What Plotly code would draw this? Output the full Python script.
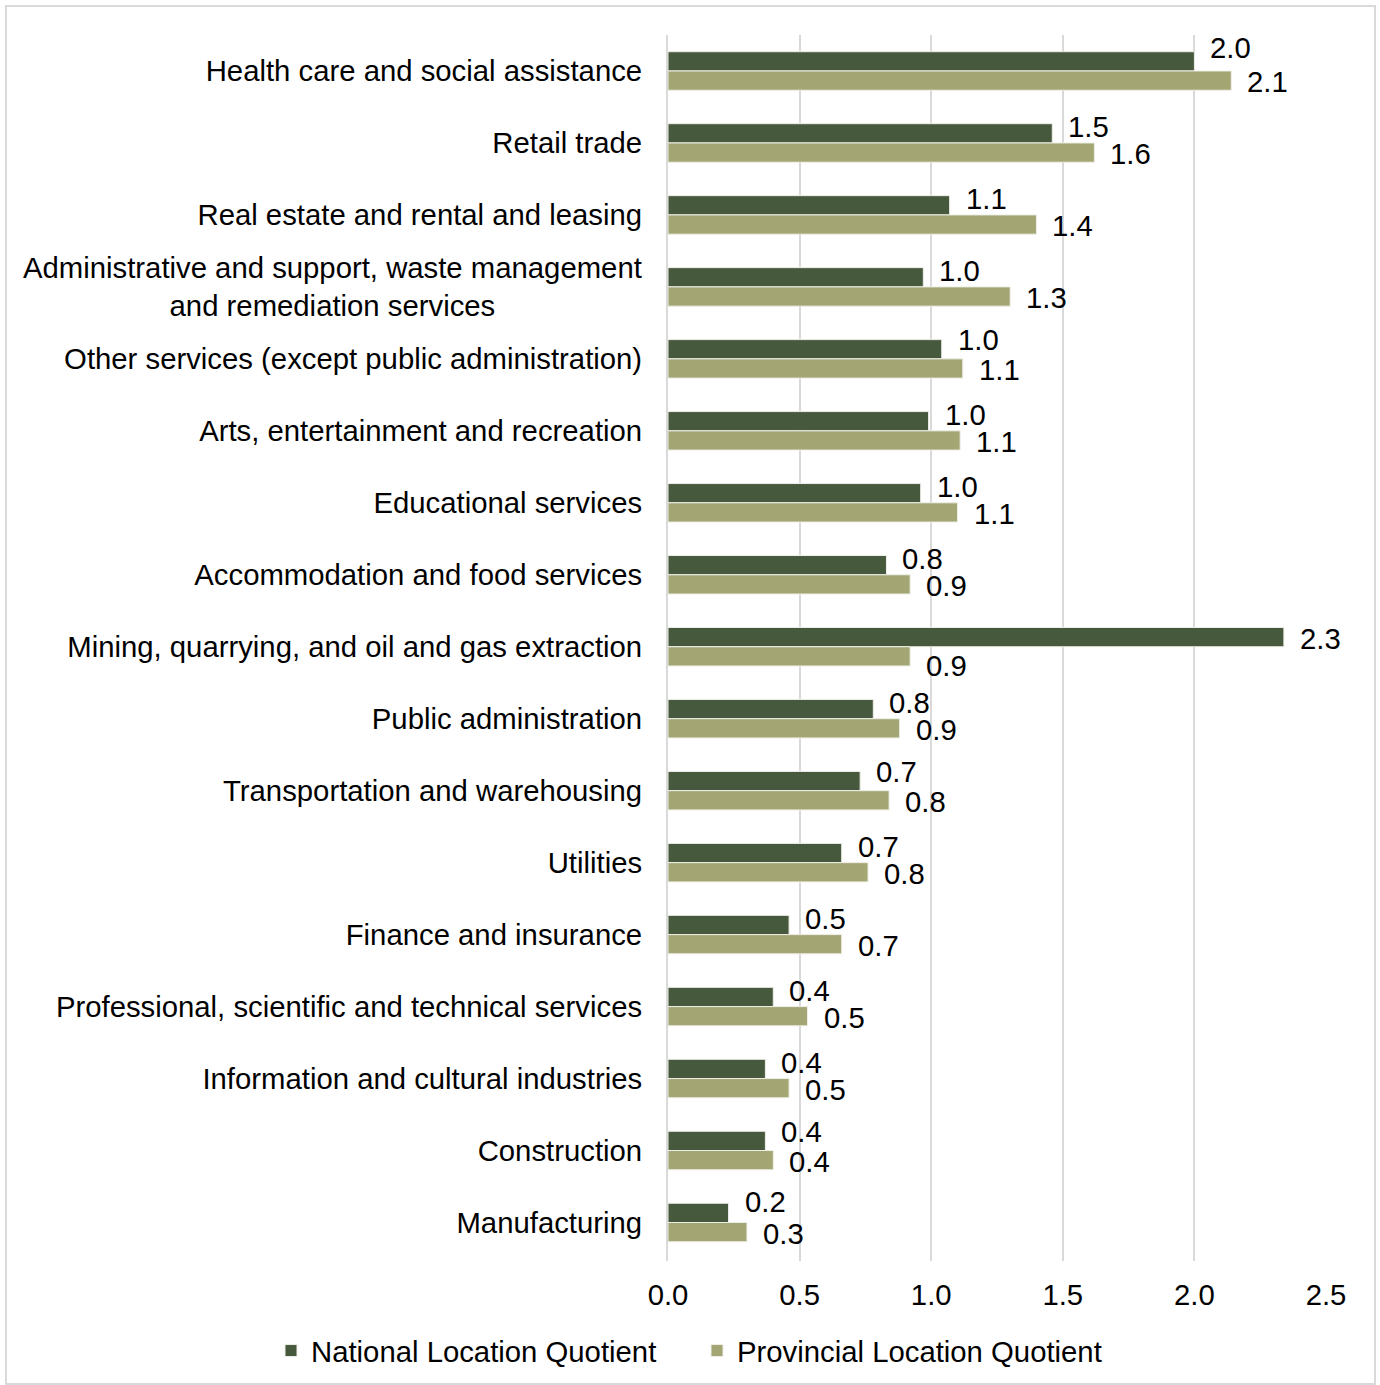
import plotly.graph_objects as go

# Industries, top to bottom
categories = [
    "Health care and social assistance",
    "Retail trade",
    "Real estate and rental and leasing",
    "Administrative and support, waste management and remediation services",
    "Other services (except public administration)",
    "Arts, entertainment and recreation",
    "Educational services",
    "Accommodation and food services",
    "Mining, quarrying, and oil and gas extraction",
    "Public administration",
    "Transportation and warehousing",
    "Utilities",
    "Finance and insurance",
    "Professional, scientific and technical services",
    "Information and cultural industries",
    "Construction",
    "Manufacturing",
]

national_lq = [2.00, 1.46, 1.07, 0.97, 1.04, 0.99, 0.96, 0.83, 2.34,
               0.78, 0.73, 0.66, 0.46, 0.40, 0.37, 0.37, 0.23]
provincial_lq = [2.14, 1.62, 1.40, 1.30, 1.12, 1.11, 1.10, 0.92, 0.92,
                 0.88, 0.84, 0.76, 0.66, 0.53, 0.46, 0.40, 0.30]

x_ticks = [0.0, 0.5, 1.0, 1.5, 2.0, 2.5]

# Tick text: the long administrative label is drawn separately (centred two lines)
LONG_LABEL = "Administrative and support, waste management and remediation services"
LONG_LABEL_TEXT = "Administrative and support, waste management<br>and remediation services"
tick_text = ["" if c == LONG_LABEL else c for c in categories]

FONT = "Liberation Sans, Arial, sans-serif"
FS = 29.3
NAT_COLOR = "#47593D"
PROV_COLOR = "#A3A673"
GRID = "#D9D9D9"

W, H = 1380, 1385
ML, MR, MT, MB = 668, 54, 35, 124

plot_w = W - ML - MR
plot_h = H - MT - MB


def px_to_paper_x(px):
    return (px - ML) / plot_w


def px_to_paper_y(py):
    return (H - MB - py) / plot_h


fig = go.Figure()
fig.add_trace(go.Bar(
    name="National Location Quotient",
    y=categories, x=national_lq, orientation="h",
    marker=dict(color=NAT_COLOR, line=dict(color="#EEEEE8", width=1)),
))
fig.add_trace(go.Bar(
    name="Provincial Location Quotient",
    y=categories, x=provincial_lq, orientation="h",
    marker=dict(color=PROV_COLOR, line=dict(color="#EEEEE8", width=1)),
))

# Value labels just past the end of each bar (vertical nudges in px)
nat_shift = {
    "Health care and social assistance": 23,
    "Other services (except public administration)": 19,
    "Mining, quarrying, and oil and gas extraction": 8,
    "Transportation and warehousing": 19,
    "Construction": 19,
    "Manufacturing": 21,
}
prov_shift = {"Mining, quarrying, and oil and gas extraction": -19}
annotations = []
for cat, nv, pv in zip(categories, national_lq, provincial_lq):
    annotations.append(dict(
        x=nv, y=cat, xref="x", yref="y", text=f"{nv:.1f}", showarrow=False,
        xanchor="left", yanchor="middle", xshift=15, yshift=nat_shift.get(cat, 16),
        borderpad=0, font=dict(family=FONT, size=FS, color="#000000"),
    ))
    annotations.append(dict(
        x=pv, y=cat, xref="x", yref="y", text=f"{pv:.1f}", showarrow=False,
        xanchor="left", yanchor="middle", xshift=15, yshift=prov_shift.get(cat, -11),
        borderpad=0, font=dict(family=FONT, size=FS, color="#000000"),
    ))

# Two-line category label, centred lines
annotations.append(dict(
    x=0, y=LONG_LABEL, xref="paper", yref="y", text=LONG_LABEL_TEXT,
    showarrow=False, xanchor="right", yanchor="middle", align="center",
    xshift=-25, borderpad=0, font=dict(family=FONT, size=FS, color="#000000"),
))

# Light frame round the whole chart
fig.add_shape(
    type="rect", xref="paper", yref="paper",
    x0=px_to_paper_x(6), x1=px_to_paper_x(1375),
    y0=px_to_paper_y(1384), y1=px_to_paper_y(6),
    line=dict(color=GRID, width=2), fillcolor="rgba(0,0,0,0)", layer="below",
)

fig.update_layout(
    width=W, height=H,
    margin=dict(l=ML, r=MR, t=MT, b=MB, pad=0, autoexpand=False),
    paper_bgcolor="#FFFFFF", plot_bgcolor="#FFFFFF",
    barmode="group", bargap=0.465, bargroupgap=0,
    font=dict(family=FONT, size=FS, color="#000000"),
    showlegend=True,
    legend=dict(
        orientation="h", xref="paper", yref="paper",
        x=px_to_paper_x(271), xanchor="left",
        y=px_to_paper_y(1351), yanchor="middle",
        font=dict(family=FONT, size=FS, color="#000000"),
        itemwidth=30, entrywidth=381, entrywidthmode="pixels",
        bgcolor="rgba(0,0,0,0)",
    ),
    annotations=annotations,
    xaxis=dict(
        range=[0, 2.5], tickvals=x_ticks, tickformat=".1f",
        showgrid=True, gridcolor=GRID, gridwidth=1.5,
        zeroline=False, showline=False, ticks="",
        ticklabelstandoff=14,
        tickfont=dict(family=FONT, size=FS, color="#000000"),
        fixedrange=True,
    ),
    yaxis=dict(
        type="category", autorange="reversed",
        tickvals=categories, ticktext=tick_text,
        showgrid=False, zeroline=False,
        showline=True, linecolor=GRID, linewidth=2,
        ticks="", ticklabelstandoff=18,
        tickfont=dict(family=FONT, size=FS, color="#000000"),
        fixedrange=True,
    ),
)

fig.write_html("out.html")
